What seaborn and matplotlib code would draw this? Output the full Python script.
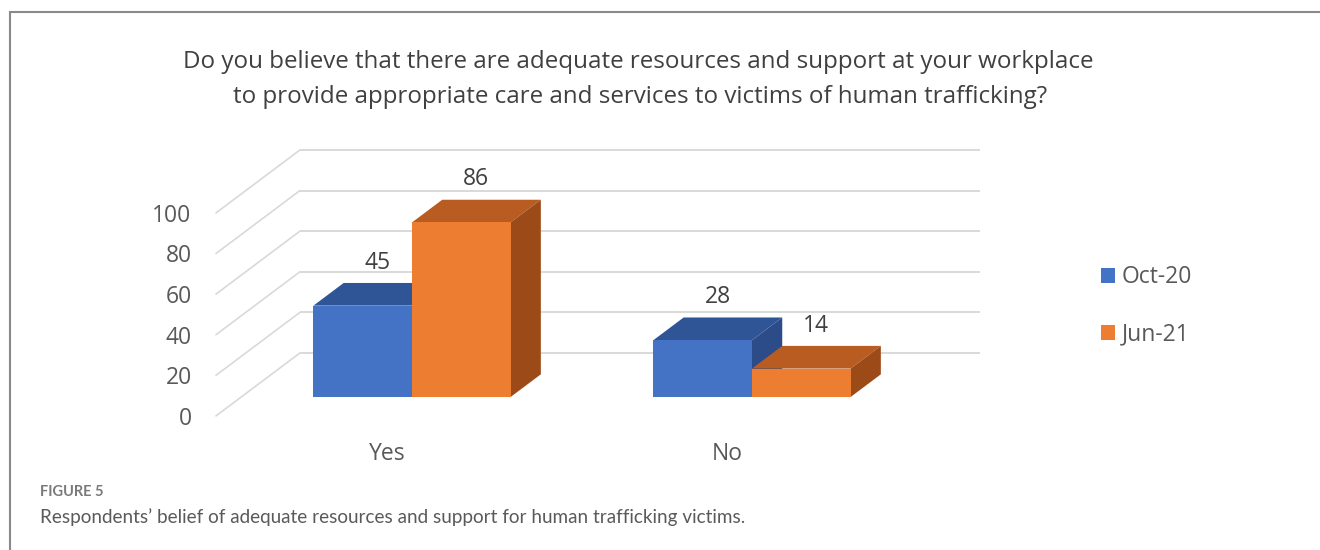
import numpy as np
import pandas as pd
import matplotlib
matplotlib.use("Agg")
import matplotlib.pyplot as plt
from matplotlib.patches import Polygon
from matplotlib.lines import Line2D
import seaborn as sns

# ---------------- data ----------------
answers = ["Yes", "No"]
periods = ["Oct-20", "Jun-21"]
oct20 = [45, 28]
jun21 = [86, 14]
y_ticks = [0, 20, 40, 60, 80, 100]
title_lines = [
    "Do you believe that there are adequate resources and support at your workplace",
    "to provide appropriate care and services to victims of human trafficking?",
]
fig_label = "FIGURE 5"
caption = "Respondents\u2019 belief of adequate resources and support for human trafficking victims."

# ---------------- style ----------------
sns.set_theme(style="white")
plt.rcParams["font.family"] = ["Open Sans", "DejaVu Sans"]

df = pd.DataFrame({
    "answer": answers * 2,
    "period": [periods[0]] * len(answers) + [periods[1]] * len(answers),
    "value": oct20 + jun21,
})

W, H = 1320, 550
fig = plt.figure(figsize=(W / 100, H / 100), dpi=100)
L, R, T, B = 200, 1000, 140, 430
ax = fig.add_axes([L / W, 1 - B / H, (R - L) / W, (B - T) / H])

front_colors = ["#4472C4", "#ED7D31"]
top_colors = ["#2F5597", "#B95C21"]
side_colors = ["#2B4C89", "#9C4A18"]
grid_color = "#D9D9D9"
text_color = "#595959"

sns.barplot(data=df, x="answer", y="value", hue="period", order=answers,
            hue_order=periods, palette=front_colors, saturation=1,
            width=0.58, linewidth=0, ax=ax)

# scale (pixels per data unit) of the pseudo-3D layout
PX_X, PX_Y = 340.0, 2.03
X0_PX, Y0_PX = 412, 397
ax.set_xlim((L - X0_PX) / PX_X, (R - X0_PX) / PX_X)
ax.set_ylim((Y0_PX - B) / PX_Y, (Y0_PX - T) / PX_Y)

# oblique depth vector (for full depth of the plot box)
DXD, DYD = 84 / PX_X, 63 / PX_Y
BAR_FRONT = 0.30   # depth of bar front plane
BAR_DEPTH = 0.36   # depth of bars
WALL_LEFT = (216 - X0_PX) / PX_X
WALL_RIGHT = (980 - X0_PX) / PX_X

# walls: gridlines
for v in y_ticks:
    yb = v + (1 - BAR_FRONT) * DYD
    yf = v - BAR_FRONT * DYD
    ax.plot([WALL_LEFT + DXD, WALL_RIGHT], [yb, yb], color=grid_color, lw=1.4,
            zorder=0.5, solid_capstyle="butt")
    ax.plot([WALL_LEFT, WALL_LEFT + DXD], [yf, yb], color=grid_color, lw=1.2,
            zorder=0.5)

# 3D faces of bars
dx, dy = BAR_DEPTH * DXD, BAR_DEPTH * DYD
for i, cont in enumerate(ax.containers):
    for bar in cont:
        x0, w, h = bar.get_x(), bar.get_width(), bar.get_height()
        z = 2 + i
        bar.set_zorder(z + 0.1)
        top = Polygon([(x0, h), (x0 + w, h), (x0 + w + dx, h + dy), (x0 + dx, h + dy)],
                      closed=True, fc=top_colors[i], ec="none", zorder=z)
        side = Polygon([(x0 + w, 0), (x0 + w + dx, dy), (x0 + w + dx, h + dy), (x0 + w, h)],
                       closed=True, fc=side_colors[i], ec="none", zorder=z)
        ax.add_patch(top)
        ax.add_patch(side)
        ax.text(x0 + w / 2 + dx / 2, h + dy + 10, f"{h:.0f}", ha="center", va="center",
                fontsize=16.5, color="#404040", zorder=6)

# ticks
ax.set_yticks([v - BAR_FRONT * DYD for v in y_ticks], [str(v) for v in y_ticks])
ax.set_xticks([i - BAR_FRONT * DXD for i in range(len(answers))], answers)
ax.tick_params(axis="both", length=0, labelsize=16.5, labelcolor=text_color)
ax.tick_params(axis="y", pad=6)
ax.tick_params(axis="x", pad=9)
ax.set_xlabel("")
ax.set_ylabel("")
ax.grid(False)
for s in ax.spines.values():
    s.set_visible(False)
ax.set_facecolor("none")

# legend
leg = ax.get_legend()
handles = leg.legend_handles
labels = [t.get_text() for t in leg.get_texts()]
leg.remove()
ax.legend(handles, labels, loc="center left", bbox_to_anchor=(1101 / W, 1 - 306 / H),
          bbox_transform=fig.transFigure, frameon=False, fontsize=16.5,
          handlelength=0.62, handleheight=0.62, handletextpad=0.3,
          labelspacing=1.45, borderpad=0, borderaxespad=0, labelcolor=text_color)

# title
fig.text(638 / W, 1 - 62 / H, title_lines[0], ha="center", va="center",
         fontsize=17.4, color="#404040")
fig.text(640 / W, 1 - 97 / H, title_lines[1], ha="center", va="center",
         fontsize=17.4, color="#404040")

# caption
fig.text(40 / W, 1 - 496 / H, fig_label, ha="left", va="baseline", fontsize=10.5,
         fontweight="bold", color="#7a7a7a", family=["Lato", "DejaVu Sans"])
fig.text(40 / W, 1 - 523 / H, caption, ha="left", va="baseline", fontsize=13.6,
         color="#5a5a5a", family=["Lato", "DejaVu Sans"])

# frame lines
fig.add_artist(Line2D([10 / W, 1], [1 - 12 / H, 1 - 12 / H], transform=fig.transFigure,
                      color="#8a8a8a", lw=1.5))
fig.add_artist(Line2D([10 / W, 10 / W], [0, 1 - 12 / H], transform=fig.transFigure,
                      color="#8a8a8a", lw=1.5))

fig.savefig("out.png", dpi=100)
